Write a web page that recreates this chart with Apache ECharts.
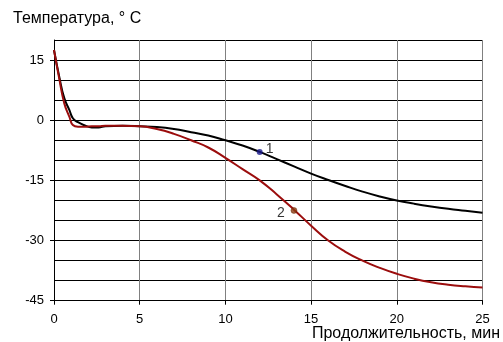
<!DOCTYPE html>
<html><head><meta charset="utf-8">
<script src="https://cdn.jsdelivr.net/npm/echarts@6/dist/echarts.min.js"></script>
<style>html,body{margin:0;padding:0;background:#fff}#c{width:503px;height:342px}</style>
</head><body><div id="c"></div>
<script>
var timeMin = [0, 0.3, 0.6, 0.9, 1.1, 1.4, 1.8, 2.2, 2.6, 3, 4, 5, 6, 7, 8, 9, 10, 11, 12, 13, 14, 15, 16, 17, 18, 19, 20, 21, 22, 23, 24, 25];
var curve1 = [17.5, 11, 5.5, 2.5, 0.5, -0.5, -1.3, -1.8, -1.8, -1.5, -1.4, -1.5, -1.7, -2.2, -3, -3.8, -5, -6.3, -7.9, -9.7, -11.5, -13.3, -14.9, -16.4, -17.8, -19, -20, -20.8, -21.5, -22.1, -22.6, -23.1];
var curve2 = [17.5, 10.5, 4.2, 0.8, -1.2, -1.6, -1.6, -1.5, -1.5, -1.4, -1.4, -1.5, -2.2, -3.4, -5, -6.8, -9.4, -12.2, -15, -18.5, -22.3, -26.3, -30, -32.8, -35, -36.8, -38.3, -39.5, -40.4, -41, -41.4, -41.7];
var point1 = [12, -7.9];
var point2 = [14, -22.5];
var yTickLabels = [-45, -30, -15, 0, 15];
var xTickLabels = [0, 5, 10, 15, 20, 25];

function pairs(xs, ys){ return xs.map(function(x,i){ return [x, ys[i]]; }); }
var font = 'Liberation Sans, Arial, sans-serif';
var chart = echarts.init(document.getElementById('c'));
chart.setOption({
  animation: false,
  grid: {left: 54, right: 20.5, top: 40, bottom: 41.3},
  title: {text: 'Температура, ° С', left: 8, top: 6, textStyle: {fontFamily: font, fontSize: 16, fontWeight: 'normal', color: '#000'}},
  xAxis: {
    type: 'value', min: 0, max: 25, interval: 5,
    name: 'Продолжительность, мин', nameLocation: 'end', nameGap: 17.5,
    nameTextStyle: {fontFamily: font, fontSize: 16, color: '#000', align: 'right', verticalAlign: 'top', padding: [25, 0, 0, 0]},
    axisLine: {show: true, onZero: false, lineStyle: {color: '#000', width: 1}},
    axisTick: {show: true, inside: false, length: 4, lineStyle: {color: '#000'}},
    axisLabel: {fontFamily: font, fontSize: 13, color: '#000', margin: 12},
    splitLine: {show: true, lineStyle: {color: '#808080', width: 1}}
  },
  yAxis: [{
    type: 'value', min: -45, max: 20, interval: 5,
    axisLine: {show: false},
    axisTick: {show: false},
    axisLabel: {show: false},
    splitLine: {show: true, lineStyle: {color: '#000', width: 1}}
  }, {
    type: 'value', min: -45, max: 20, interval: 5, position: 'left',
    axisLine: {show: true, onZero: false, lineStyle: {color: '#000', width: 1}},
    axisTick: {show: true, inside: false, length: 4, lineStyle: {color: '#000'}, customValues: yTickLabels},
    axisLabel: {fontFamily: font, fontSize: 13, color: '#000', margin: 10, customValues: yTickLabels},
    splitLine: {show: false}
  }],
  series: [
    {type: 'line', data: pairs(timeMin, curve1), smooth: true, showSymbol: false,
     lineStyle: {color: '#000', width: 2}, z: 3},
    {type: 'line', data: pairs(timeMin, curve2), smooth: true, showSymbol: false,
     lineStyle: {color: '#9b0d0d', width: 2}, z: 3},
    {type: 'scatter', data: [point1], symbolSize: 6, itemStyle: {color: '#1a1a8c'}, z: 5,
     label: {show: true, formatter: '1', position: 'right', distance: 3, offset: [0, -3], fontFamily: font, fontSize: 14, color: '#000'}},
    {type: 'scatter', data: [point2], symbolSize: 6, itemStyle: {color: '#8b3a10', borderColor: '#5a2000', borderWidth: 0.5}, z: 5,
     label: {show: true, formatter: '2', position: 'left', distance: 6, offset: [0, 3], fontFamily: font, fontSize: 14, color: '#000'}}
  ]
});
</script></body></html>
